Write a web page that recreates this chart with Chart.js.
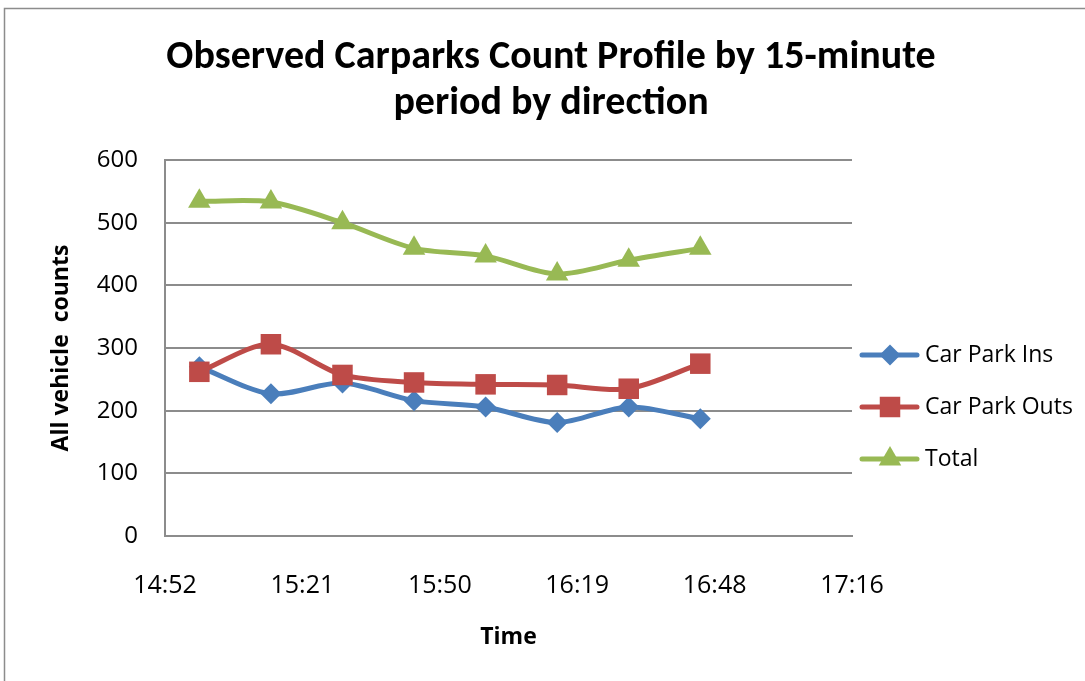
<!DOCTYPE html>
<html>
<head>
<meta charset="utf-8">
<script src="https://cdn.jsdelivr.net/npm/chart.js@4.4.0/dist/chart.umd.min.js"></script>
<style>
  html, body { margin: 0; padding: 0; background: #fff; }
  #wrap { width: 1085px; height: 681px; }
</style>
</head>
<body>
<div id="wrap"><canvas id="chart" width="1085" height="681"></canvas></div>
<script>
// 15分ごとの時刻（分単位）
const timeMinutes = [900, 915, 930, 945, 960, 975, 990, 1005];
// 入庫・出庫・合計
const carParkIns = [270, 227, 244, 216, 206, 181, 206, 187];
const carParkOuts = [262, 306, 257, 245, 242, 241, 235, 275];
const totals = [534, 533, 500, 459, 447, 418, 440, 459];
// 軸の目盛り
const xTickValues = [892.8, 921.6, 950.4, 979.2, 1008, 1036.8];
const xTickLabels = ['14:52', '15:21', '15:50', '16:19', '16:48', '17:16'];
const seriesNames = ['Car Park Ins', 'Car Park Outs', 'Total'];
const titleLines = ['Observed Carparks Count Profile by 15-minute', 'period by direction'];

const TITLE_FONT = 'Carlito, Lato, sans-serif';
const FONT = '"Open Sans", sans-serif';
const GRID = '#8c8c8c';

function toPoints(values) {
    return values.map((v, i) => ({ x: timeMinutes[i], y: v }));
}

// 枠線・タイトル・凡例を描く
const decorPlugin = {
    id: 'decor',
    beforeDraw(chart) {
        const ctx = chart.ctx;
        ctx.save();
        ctx.strokeStyle = GRID;
        ctx.lineWidth = 1.5;
        ctx.strokeRect(4.5, 8.5, 1300, 900);
        ctx.restore();
    },
    afterDraw(chart) {
        const ctx = chart.ctx;
        ctx.save();
        ctx.fillStyle = '#000';
        ctx.textAlign = 'center';
        ctx.textBaseline = 'middle';
        ctx.font = 'bold 40px ' + TITLE_FONT;
        ctx.fillText(titleLines[0], 551, 58);
        ctx.fillText(titleLines[1], 551, 104);

        // 凡例
        const rows = [355, 407, 459];
        chart.data.datasets.forEach((ds, i) => {
            const y = rows[i];
            ctx.strokeStyle = ds.borderColor;
            ctx.lineWidth = 5;
            ctx.lineCap = 'round';
            ctx.beginPath();
            ctx.moveTo(862, y);
            ctx.lineTo(917, y);
            ctx.stroke();
            ctx.fillStyle = ds.pointBackgroundColor;
            Chart.helpers.drawPoint(ctx, { pointStyle: ds.pointStyle, radius: ds.pointRadius, rotation: 0, borderWidth: 0 }, 890, y);
            ctx.fillStyle = '#000';
            ctx.textAlign = 'left';
            ctx.font = '23px ' + FONT;
            ctx.fillText(ds.label, 925, y);
        });
        ctx.restore();
    }
};

function createChart() {
    const ctx = document.getElementById('chart').getContext('2d');
    new Chart(ctx, {
        type: 'line',
        data: {
            datasets: [
                {
                    label: seriesNames[0],
                    data: toPoints(carParkIns),
                    borderColor: '#4a7ebb',
                    backgroundColor: '#4a7ebb',
                    pointBackgroundColor: '#4a7ebb',
                    pointBorderWidth: 0,
                    pointStyle: 'rectRot',
                    pointRadius: 10.5,
                    borderWidth: 5,
                    tension: 0.3,
                    order: 3
                },
                {
                    label: seriesNames[1],
                    data: toPoints(carParkOuts),
                    borderColor: '#be4b48',
                    backgroundColor: '#be4b48',
                    pointBackgroundColor: '#be4b48',
                    pointBorderWidth: 0,
                    pointStyle: 'rect',
                    pointRadius: 14.5,
                    borderWidth: 5,
                    tension: 0.3,
                    order: 2
                },
                {
                    label: seriesNames[2],
                    data: toPoints(totals),
                    borderColor: '#98b954',
                    backgroundColor: '#98b954',
                    pointBackgroundColor: '#98b954',
                    pointBorderWidth: 0,
                    pointStyle: 'triangle',
                    pointRadius: 13,
                    borderWidth: 5,
                    tension: 0.3,
                    order: 1
                }
            ]
        },
        options: {
            responsive: false,
            animation: false,
            layout: { padding: { left: 0, top: 160, right: 233, bottom: 0 } },
            scales: {
                x: {
                    type: 'linear',
                    min: xTickValues[0],
                    max: xTickValues[xTickValues.length - 1],
                    afterBuildTicks: scale => {
                        scale.ticks = xTickValues.map(v => ({ value: v }));
                    },
                    afterFit: scale => { scale.height = 145; },
                    grid: { display: false, drawTicks: false },
                    border: { display: true, color: GRID, width: 2 },
                    ticks: {
                        padding: 35,
                        maxRotation: 0,
                        autoSkip: false,
                        color: '#000',
                        font: { family: FONT, size: 25 },
                        callback: (v, i) => xTickLabels[i]
                    },
                    title: {
                        display: true,
                        text: 'Time',
                        color: '#000',
                        font: { family: FONT, size: 23, weight: 'bold' },
                        padding: { top: 0, bottom: 30 }
                    }
                },
                y: {
                    min: 0,
                    max: 600,
                    afterFit: scale => { scale.width = 165; },
                    grid: { color: GRID, lineWidth: 2, drawTicks: false },
                    border: { display: true, color: GRID, width: 2 },
                    ticks: {
                        stepSize: 100,
                        padding: 27,
                        color: '#000',
                        font: { family: FONT, size: 24 }
                    },
                    title: {
                        display: true,
                        text: 'All vehicle  counts',
                        color: '#000',
                        font: { family: FONT, size: 23, weight: 'bold' },
                        padding: { top: 48, bottom: 0 }
                    }
                }
            },
            plugins: {
                legend: { display: false },
                title: { display: false },
                tooltip: { enabled: false }
            }
        },
        plugins: [decorPlugin]
    });
}

createChart();
</script>
</body>
</html>
